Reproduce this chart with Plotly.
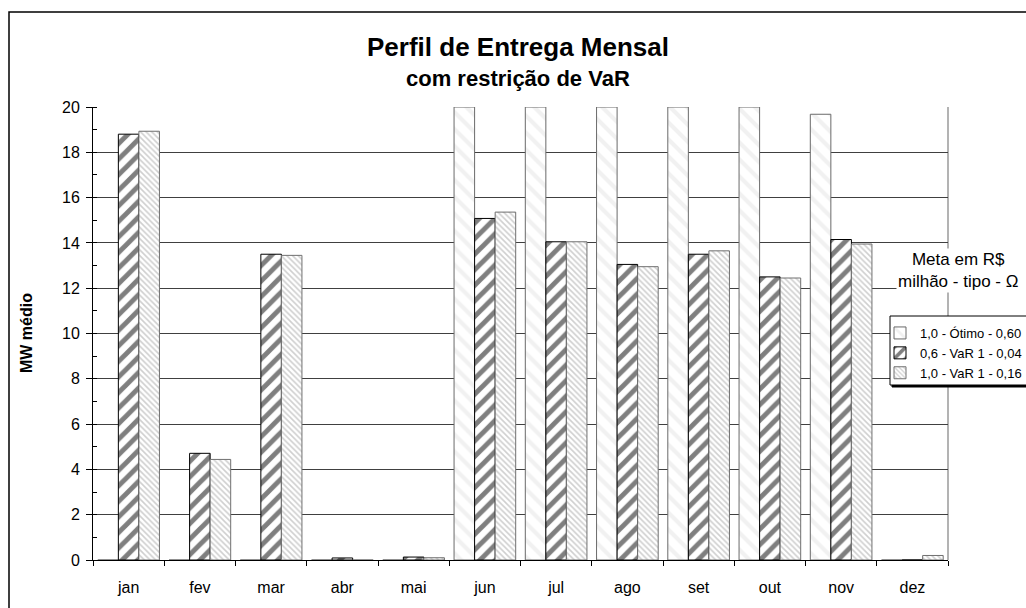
import plotly.graph_objects as go

months = ["jan", "fev", "mar", "abr", "mai", "jun", "jul", "ago", "set", "out", "nov", "dez"]
otimo = [0, 0, 0, 0, 0, 20, 20, 20, 20, 20, 19.68, 0]
var1_04 = [18.8, 4.71, 13.5, 0.09, 0.13, 15.08, 14.05, 13.05, 13.5, 12.5, 14.15, 0]
var1_16 = [18.93, 4.44, 13.45, 0, 0.1, 15.36, 14.05, 12.95, 13.65, 12.45, 13.95, 0.2]
names = ["1,0 - Ótimo - 0,60", "0,6 - VaR 1 - 0,04", "1,0 - VaR 1 - 0,16"]
yticks = [0, 2, 4, 6, 8, 10, 12, 14, 16, 18, 20]

FONT = "Liberation Sans, Arial, sans-serif"
L, R, T, B = 93, 948, 107, 560
PW, PH = R - L, B - T

def px(x):
    return (x - L) / PW

def py(y):
    return 1 - (y - T) / PH

fig = go.Figure()
fig.add_trace(go.Bar(
    x=months, y=otimo, name=names[0],
    marker=dict(color="white", line=dict(color="#6a6a6a", width=1),
                pattern=dict(shape="\\", fgcolor="#e4e4e4", bgcolor="white", size=12, solidity=0.35)),
))
fig.add_trace(go.Bar(
    x=months, y=var1_04, name=names[1],
    marker=dict(color="white", line=dict(color="#000000", width=1),
                pattern=dict(shape="/", fgcolor="#000000", bgcolor="white", size=11, solidity=0.45)),
))
fig.add_trace(go.Bar(
    x=months, y=var1_16, name=names[2],
    marker=dict(color="white", line=dict(color="#707070", width=1),
                pattern=dict(shape="\\", fgcolor="#a0a0a0", bgcolor="white", size=4, solidity=0.4)),
))

fig.update_layout(
    width=1026, height=608,
    margin=dict(l=L, r=1026 - R, t=T, b=608 - B, autoexpand=False),
    paper_bgcolor="white", plot_bgcolor="white",
    barmode="group", bargap=0.135, bargroupgap=0,
    font=dict(family=FONT, size=16, color="black"),
    showlegend=True,
    legend=dict(x=px(880), y=py(318), xanchor="left", yanchor="top",
                borderwidth=0, bgcolor="rgba(0,0,0,0)",
                font=dict(size=13, family=FONT), tracegroupgap=0, itemwidth=30,
                traceorder="normal"),
    xaxis=dict(type="category", tickson="boundaries", ticks="outside", ticklen=5,
               tickcolor="black", showline=True, linecolor="black", linewidth=1,
               showgrid=False, tickfont=dict(size=16), ticklabelstandoff=13, fixedrange=True),
    yaxis=dict(range=[0, 20], tickvals=yticks, ticks="outside", ticklen=6, tickcolor="black",
               showline=True, linecolor="black", linewidth=1,
               showgrid=True, gridcolor="#404040", gridwidth=1, zeroline=False,
               minor=dict(dtick=1, ticks="inside", ticklen=4, tickcolor="black", showgrid=False),
               ticklabelstandoff=3, tickfont=dict(size=16), fixedrange=True),
    annotations=[
        dict(text="<b>Perfil de Entrega Mensal</b>", x=px(518), y=py(47), xref="paper", yref="paper",
             showarrow=False, font=dict(size=26, family=FONT), xanchor="center", yanchor="middle"),
        dict(text="<b>com restrição de VaR</b>", x=px(518), y=py(79), xref="paper", yref="paper",
             showarrow=False, font=dict(size=22, family=FONT), xanchor="center", yanchor="middle"),
        dict(text="Meta em R$<br>milhão - tipo - Ω", x=px(958), y=py(270), xref="paper", yref="paper",
             showarrow=False, font=dict(size=17, family=FONT), xanchor="center", yanchor="middle",
             align="center", bgcolor="white"),
        dict(text="<b>MW médio</b>", x=px(26), y=py(333), xref="paper", yref="paper",
             showarrow=False, font=dict(size=16, family=FONT), textangle=-90,
             xanchor="center", yanchor="middle"),
    ],
    shapes=[
        dict(type="line", xref="paper", yref="paper", x0=1, x1=1, y0=0, y1=1,
             line=dict(color="#9a9a9a", width=1.5), layer="below"),
        dict(type="rect", xref="paper", yref="paper", x0=px(9), x1=px(1100), y0=py(700), y1=py(12),
             line=dict(color="black", width=1.5)),
        dict(type="rect", xref="paper", yref="paper", x0=px(892), x1=px(1100), y0=py(387), y1=py(318),
             line=dict(color="black", width=1), fillcolor="black", layer="above"),
        dict(type="rect", xref="paper", yref="paper", x0=px(890), x1=px(1100), y0=py(385), y1=py(316),
             line=dict(color="black", width=1), fillcolor="white", layer="above"),
    ],
)

fig.write_html("out.html", config={"displayModeBar": False},
               post_script="document.body.style.margin='0';document.body.style.overflow='hidden';")
